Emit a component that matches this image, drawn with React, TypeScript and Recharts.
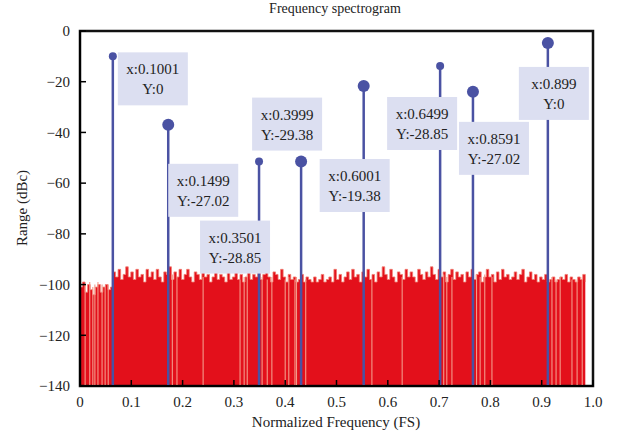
import React from 'react'
import {
  ComposedChart,
  Area,
  Scatter,
  ErrorBar,
  XAxis,
  YAxis,
  ReferenceArea
} from 'recharts'

// noise floor, read across 0 .. 0.985 FS in equal bins
const noiseLevel = [
  -101, -99, -103, -100, -102, -104, -101, -100, -103, -101,
  -100, -102, -101, -95, -97, -94, -98, -96, -93, -97,
  -95, -98, -94, -97, -96, -99, -94, -97, -95, -98,
  -94, -97, -99, -95, -96, -93, -98, -95, -97, -94,
  -98, -96, -94, -97, -99, -95, -96, -98, -94, -97,
  -96, -99, -97, -95, -98, -96, -97, -99, -95, -98,
  -97, -95, -98, -96, -99, -97, -94, -98, -96, -97,
  -95, -98, -96, -94, -97, -99, -95, -96, -98, -94,
  -97, -99, -96, -98, -97, -99, -98, -96, -99, -97,
  -98, -99, -97, -99, -98, -96, -99, -98, -97, -99,
  -94, -98, -96, -99, -97, -95, -98, -94, -97, -96,
  -99, -95, -97, -94, -98, -96, -99, -95, -97, -93,
  -96, -98, -94, -97, -99, -95, -96, -98, -94, -97,
  -95, -97, -99, -94, -96, -98, -95, -97, -93, -96,
  -98, -94, -97, -95, -99, -96, -94, -98, -95, -97,
  -96, -99, -95, -97, -94, -98, -96, -95, -99, -97,
  -94, -97, -96, -99, -95, -98, -94, -97, -96, -98,
  -97, -95, -98, -96, -94, -99, -97, -95, -98, -96,
  -99, -97, -98, -96, -99, -98, -97, -99, -98, -97,
  -98, -96, -99, -97, -98, -99, -97, -98, -96, -99
]
const NOISE_END = 0.985

// thin lighter gaps in the noise
const gapFreq = [
  0.010, 0.019, 0.025, 0.029, 0.035, 0.043, 0.049, 0.055,
  0.180, 0.189, 0.240, 0.312, 0.320, 0.326, 0.355, 0.365, 0.374,
  0.400, 0.407, 0.419, 0.422, 0.440, 0.569, 0.628, 0.709, 0.715,
  0.725, 0.773, 0.780, 0.789, 0.803, 0.920, 0.928, 0.936, 0.959,
  0.969, 0.979
]
const gapLevel = [
  -100, -99, -101, -100, -99, -100, -101, -100,
  -96, -97, -97, -98, -97, -96, -97, -98, -97,
  -98, -97, -98, -97, -98, -98, -97, -96, -97,
  -97, -96, -97, -96, -97, -97, -98, -97, -98,
  -98, -97
]

// spectral peaks
const peakFreq = [0.064, 0.172, 0.349, 0.431, 0.553, 0.702, 0.766, 0.912]
const peakLevel = [-10, -37, -51.5, -51.5, -21.7, -13.8, -24, -4.7]
const peakBig = [false, true, false, true, true, false, true, true]

// callout texts
const calloutX = ['0.1001', '0.1499', '0.3501', '0.3999', '0.6001', '0.6499', '0.8591', '0.899']
const calloutY = ['0', '-27.02', '-28.85', '-29.38', '-19.38', '-28.85', '-27.02', '0']

const xTicks = [0, 0.1, 0.2, 0.3, 0.4, 0.5, 0.6, 0.7, 0.8, 0.9, 1.0]
const yTicks = [0, -20, -40, -60, -80, -100, -120, -140]

// layout: callout box offset (px) from its marker
const calloutOffset = [
  [5, -4], [0, 39], [-59, 59], [-49, -64], [-44, 73], [-53, 31], [-14, 30], [-29, 24]
]
const BOX_W = 70
const BOX_H = 53

const STEM = '#4a52a3'
const FONT = '"Liberation Serif", "DejaVu Serif", serif'
const TICK_MARGIN = 10

const noiseData = noiseLevel.map((v, i) => ({ f: (i * NOISE_END) / (noiseLevel.length - 1), v }))
const gapData = gapFreq.map((f, i) => ({ f, v: gapLevel[i], err: [gapLevel[i] + 140, 0] }))
const peakData = peakFreq.map((f, i) => ({
  f,
  v: peakLevel[i],
  err: [peakLevel[i] + 140, 0],
  big: peakBig[i],
  i
}))

const XTick = (props: any) => {
  const { x, y, payload } = props
  const v = payload.value
  const label = v === 0 ? '0' : v.toFixed(1)
  return (
    <g>
      <line x1={x} x2={x} y1={y - TICK_MARGIN} y2={y - TICK_MARGIN - 6} stroke="#000" strokeWidth={1.5} />
      <text x={x} y={y} dy="0.75em" textAnchor="middle" fontSize={15} fontFamily={FONT} fill="#222">
        {label}
      </text>
    </g>
  )
}

const YTick = (props: any) => {
  const { x, y, payload } = props
  const v = payload.value
  const label = v === 0 ? '0' : '\u2212' + Math.abs(v)
  return (
    <g>
      <line x1={x + TICK_MARGIN} x2={x + TICK_MARGIN + 6} y1={y} y2={y} stroke="#000" strokeWidth={1.5} />
      <text x={x} y={y} dy="0.35em" textAnchor="end" fontSize={15} fontFamily={FONT} fill="#222">
        {label}
      </text>
    </g>
  )
}

const Marker = (props: any) => {
  const { cx, cy, payload } = props
  return <circle cx={cx} cy={cy} r={payload.big ? 6 : 4} fill={STEM} />
}

const Callout = (props: any) => {
  const { cx, cy, payload } = props
  const [dx, dy] = calloutOffset[payload.i]
  const bx = cx + dx
  const by = cy + dy
  return (
    <g>
      <rect x={bx} y={by} width={BOX_W} height={BOX_H} fill="#dcdff1" />
      <text x={bx + BOX_W / 2} y={by + 22} textAnchor="middle" fontSize={15} fontFamily={FONT} fill="#222">
        {'x:' + calloutX[payload.i]}
      </text>
      <text x={bx + BOX_W / 2} y={by + 42} textAnchor="middle" fontSize={15} fontFamily={FONT} fill="#222">
        {'Y:' + calloutY[payload.i]}
      </text>
    </g>
  )
}

const Nothing = () => <g />

export default function App() {
  return (
    <div style={{ position: 'absolute', left: 0, top: 0, width: 624, height: 439, background: '#fff', fontFamily: FONT }}>
      <div style={{ position: 'absolute', left: 0, width: 670, top: 1, textAlign: 'center', fontSize: 14, color: '#222' }}>
        Frequency spectrogram
      </div>
      <ComposedChart width={624} height={439} margin={{ top: 31, right: 31, bottom: 23, left: 0 }}>
        <XAxis
          type="number"
          dataKey="f"
          domain={[0, 1]}
          ticks={xTicks}
          height={30}
          tickSize={0}
          tickMargin={TICK_MARGIN}
          tick={<XTick />}
          axisLine={{ stroke: '#000', strokeWidth: 2 }}
          allowDataOverflow
        />
        <YAxis
          type="number"
          dataKey="v"
          domain={[-140, 0]}
          ticks={yTicks}
          width={80}
          tickSize={0}
          tickMargin={TICK_MARGIN}
          tick={<YTick />}
          axisLine={{ stroke: '#000', strokeWidth: 2 }}
          allowDataOverflow
        />
        <Area
          data={noiseData}
          type="stepAfter"
          dataKey="v"
          baseValue={-140}
          stroke="#f07c70"
          strokeWidth={0.8}
          fill="#e3101b"
          fillOpacity={1}
          isAnimationActive={false}
        />
        <Scatter data={gapData} dataKey="v" shape={<Nothing />} isAnimationActive={false}>
          <ErrorBar dataKey="err" direction="y" width={0} stroke="#f39a8a" strokeWidth={1.1} />
        </Scatter>
        <Scatter data={peakData} dataKey="v" shape={<Marker />} isAnimationActive={false}>
          <ErrorBar dataKey="err" direction="y" width={0} stroke={STEM} strokeWidth={2.5} />
        </Scatter>
        <Scatter data={peakData} dataKey="v" shape={<Callout />} isAnimationActive={false} />
        <ReferenceArea x1={0} x2={1} y1={-140} y2={0} fill="none" stroke="#111" strokeWidth={2.5} />
      </ComposedChart>
      <div style={{ position: 'absolute', left: 0, width: 672, top: 414, textAlign: 'center', fontSize: 15, color: '#222' }}>
        Normalized Frequency (FS)
      </div>
      <div
        style={{
          position: 'absolute',
          left: 22,
          top: 208,
          transform: 'translate(-50%, -50%) rotate(-90deg)',
          whiteSpace: 'nowrap',
          fontSize: 15,
          color: '#222'
        }}
      >
        Range (dBc)
      </div>
    </div>
  )
}
